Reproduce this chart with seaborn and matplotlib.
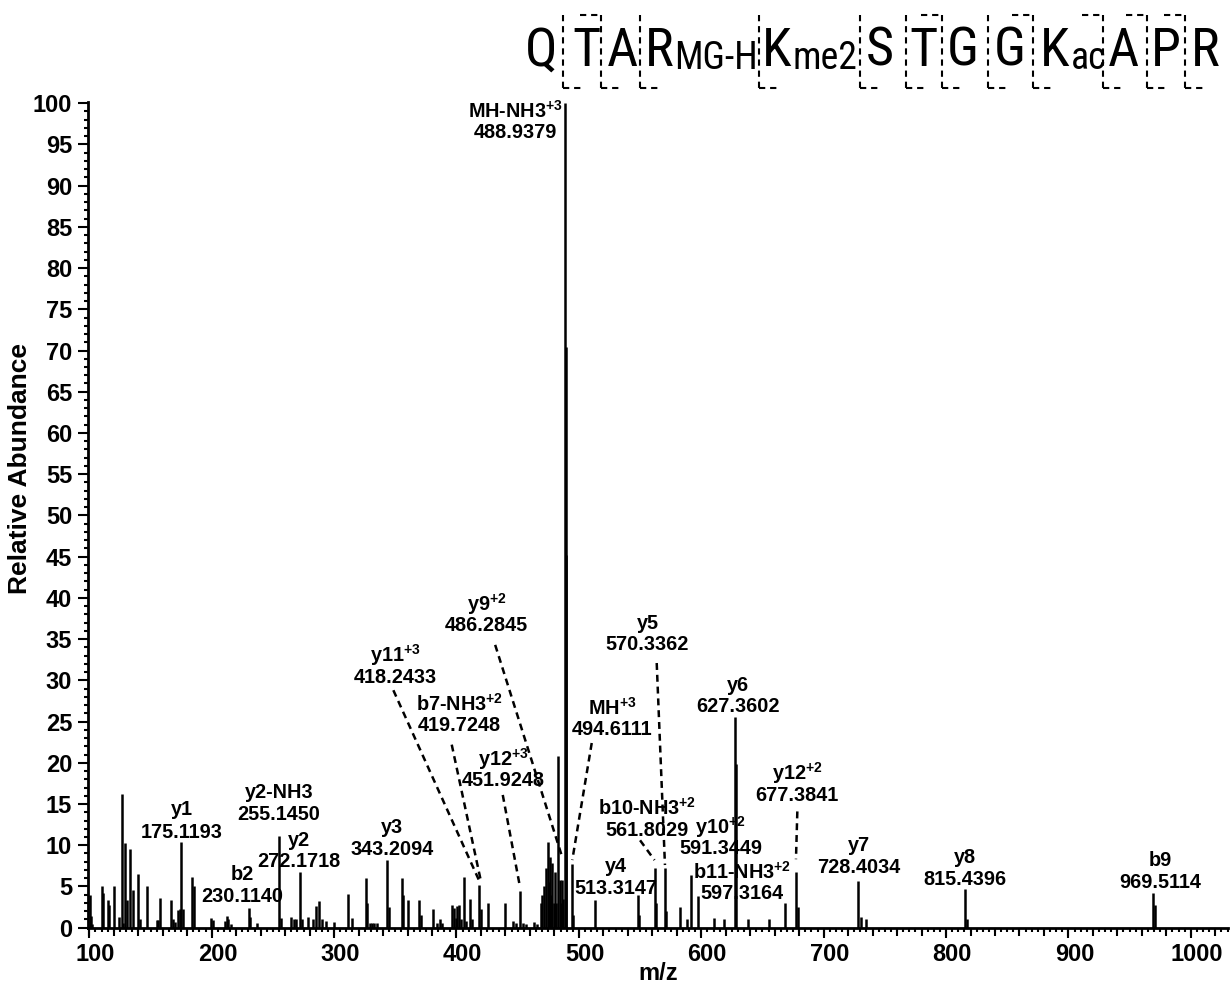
import os
import matplotlib
matplotlib.use("Agg")
import matplotlib.pyplot as plt
import seaborn as sns
from matplotlib import transforms, font_manager
from matplotlib.lines import Line2D
from matplotlib.ticker import MultipleLocator

# ---------------- spectrum data ----------------
mz = [100.4, 101.2, 102.5, 110.1, 111.5, 115.0, 116.1, 120.2, 124.5, 126.3,
      127.8, 129.2, 130.5, 133.2, 135.7, 140.0, 141.4, 147.4, 155.1, 156.0,
      158.0, 166.8, 168.6, 170.0, 172.7, 174.1, 175.1193, 176.6, 184.2, 185.3,
      199.4, 201.3, 210.9, 212.3, 213.6, 215.5, 230.1140, 231.2, 237.0, 255.1450,
      256.8, 264.8, 267.5, 269.2, 272.1718, 273.6, 278.9, 283.0, 285.2, 287.9,
      289.9, 293.2, 299.9, 311.6, 314.9, 325.8, 327.0, 329.0, 331.0, 333.0,
      335.0, 343.2094, 345.0, 355.5, 356.6, 360.7, 369.5, 370.8, 380.6, 384.4,
      386.6, 388.2, 396.6, 398.0, 399.6, 400.7, 402.3, 403.5, 405.9, 407.6,
      411.1, 412.5, 418.2433, 419.7248, 425.5, 439.7, 446.5, 448.9, 451.9248, 454.6,
      456.8, 463.6, 465.6, 468.9, 470.2, 471.6, 473.2, 474.6, 475.5, 476.5,
      477.6, 478.4, 479.4, 480.3, 481.5, 483.2, 484.6, 485.5, 486.2845, 487.4,
      488.9379, 489.27, 489.6, 494.6111, 495.6, 513.3147, 548.1, 549.2, 561.8029, 563.0,
      570.3362, 571.3, 582.7, 588.3, 591.3449, 597.3164, 610.2, 618.9, 627.3602, 628.36,
      638.5, 655.4, 668.8, 677.3841, 678.9, 728.4034, 730.6, 734.4, 815.4396, 817.0,
      969.5114, 971.0]
abundance = [4.0, 1.4, 0.5, 5.0, 4.2, 3.3, 2.7, 5.0, 1.3, 16.2,
             0.6, 10.3, 3.4, 9.6, 4.6, 6.5, 1.0, 5.1, 0.9, 0.9,
             3.6, 3.4, 1.0, 0.7, 2.1, 2.3, 10.35, 2.3, 6.1, 5.0,
             1.2, 0.9, 0.8, 1.4, 1.0, 0.5, 2.4, 1.3, 0.6, 11.1,
             1.2, 1.3, 1.1, 1.0, 6.75, 1.0, 1.3, 1.0, 2.6, 3.2,
             1.0, 0.8, 0.7, 4.1, 1.2, 6.0, 3.0, 0.6, 0.6, 0.6,
             0.6, 8.2, 2.5, 6.0, 4.0, 3.4, 3.4, 1.5, 2.3, 0.6,
             1.1, 0.6, 2.7, 2.4, 1.2, 2.6, 2.7, 1.0, 6.1, 0.8,
             3.5, 1.0, 5.2, 2.3, 3.0, 3.0, 0.8, 0.6, 4.5, 0.6,
             0.5, 0.7, 0.4, 3.0, 4.0, 5.0, 7.3, 10.4, 5.5, 8.6,
             4.0, 7.8, 3.0, 6.8, 3.0, 20.8, 5.8, 3.0, 5.8, 3.5,
             100.0, 70.4, 45.2, 7.7, 1.5, 3.4, 4.0, 1.5, 7.3, 3.0,
             7.2, 2.0, 2.5, 1.0, 6.4, 3.8, 1.2, 1.1, 25.6, 19.9,
             1.0, 1.0, 3.0, 6.7, 2.5, 5.7, 1.3, 1.0, 4.65, 1.0,
             4.2, 2.75]

# annotated fragment ions
ion_names = ["MH-NH3$^{+3}$", "y1", "b2", "y2-NH3", "y2", "y3", "y11$^{+3}$",
             "b7-NH3$^{+2}$", "y12$^{+3}$", "y9$^{+2}$", "MH$^{+3}$", "y4",
             "b10-NH3$^{+2}$", "y5", "y10$^{+2}$", "b11-NH3$^{+2}$", "y6",
             "y12$^{+2}$", "y7", "y8", "b9"]
ion_mz = [488.9379, 175.1193, 230.1140, 255.1450, 272.1718, 343.2094, 418.2433,
          419.7248, 451.9248, 486.2845, 494.6111, 513.3147, 561.8029, 570.3362,
          591.3449, 597.3164, 627.3602, 677.3841, 728.4034, 815.4396, 969.5114]

# peptide sequence with modifications and observed cleavages
residues = ["Q", "T", "A", "R", "K", "S", "T", "G", "G", "K", "A", "P", "R"]
modifications = ["", "", "", "MG-H", "me2", "", "", "", "", "ac", "", "", ""]
b_ions_seen = [2, 7, 9, 10, 11, 12]
y_ions_seen = [12, 11, 10, 9, 8, 7, 6, 5, 4, 3, 2, 1]

# ---------------- layout ----------------
# label placement (x, name line y, value line y) in data units
label_pos = {
    "MH-NH3$^{+3}$": (447.9, 99.1, 96.5),
    "y1": (175.7, 14.3, 11.6),
    "b2": (225.0, 6.5, 3.8),
    "y2-NH3": (255.0, 16.4, 13.75),
    "y2": (271.4, 10.6, 8.0),
    "y3": (347.6, 12.1, 9.5),
    "y11$^{+3}$": (349.8, 33.1, 30.4),
    "b7-NH3$^{+2}$": (402.1, 27.2, 24.5),
    "y12$^{+3}$": (438.0, 20.5, 17.9),
    "y9$^{+2}$": (424.7, 39.3, 36.7),
    "MH$^{+3}$": (527.1, 26.7, 24.0),
    "y4": (530.4, 7.4, 4.8),
    "b10-NH3$^{+2}$": (555.5, 14.5, 11.8),
    "y5": (556.0, 36.9, 34.3),
    "y10$^{+2}$": (615.9, 12.2, 9.6),
    "b11-NH3$^{+2}$": (633.3, 6.8, 4.2),
    "y6": (630.3, 29.4, 26.8),
    "y12$^{+2}$": (678.5, 18.7, 16.0),
    "y7": (728.9, 10.0, 7.3),
    "y8": (815.6, 8.5, 5.9),
    "b9": (974.9, 8.2, 5.5),
}
# dashed leader lines: label end (x, y) -> height above the ion peak
leaders = {
    "y11$^{+3}$": (348.4, 28.8, 5.8),
    "b7-NH3$^{+2}$": (396.1, 22.2, 5.8),
    "y9$^{+2}$": (431.6, 34.3, 8.6),
    "y12$^{+3}$": (437.8, 16.1, 4.9),
    "MH$^{+3}$": (510.5, 22.4, 8.2),
    "y5": (563.6, 32.1, 7.6),
    "b10-NH3$^{+2}$": (550.0, 10.6, 8.2),
    "y12$^{+2}$": (678.5, 14.1, 8.3),
}

# sequence header geometry in figure pixels
W, H = 1230, 986
residue_x = [541.6, 586.4, 622.0, 658.9, 776.6, 879.4, 923.8, 962.6,
             1009.3, 1054.7, 1123.8, 1165.9, 1205.6]
cleavage_x = [563.0, 600.5, 640.0, 759.0, 860.0, 905.6, 941.6, 988.3,
              1032.7, 1102.8, 1147.2, 1184.6]
seq_baseline, sub_baseline = 66, 69
bracket_top, bracket_bottom, hook_len = 15, 88, 21


def narrow_font():
    """Find an installed narrow/condensed sans face for the sequence."""
    entries = font_manager.fontManager.ttflist
    wanted = ["Liberation Sans Narrow", "Arial Narrow", "Roboto Condensed",
              "Open Sans Condensed", "Noto Sans Condensed"]
    for name in wanted:
        for f in entries:
            if f.name == name and f.style == "normal" and f.weight in (400, "normal", "regular"):
                return font_manager.FontProperties(fname=f.fname), 39
    skip = ("bold", "light", "semi", "extra", "thin", "medium", "black",
            "mono", "italic", "oblique", "serif", "display", "ui")
    for f in entries:
        base = os.path.basename(f.fname).lower()
        if ("condensed" in base or "narrow" in base) and not any(s in base.replace("sans", "") for s in skip):
            return font_manager.FontProperties(fname=f.fname), 39
    return font_manager.FontProperties(family="Liberation Sans"), 32


# ---------------- style ----------------
sns.set_theme(style="ticks")
plt.rcParams["font.family"] = ["Liberation Sans", "DejaVu Sans"]
plt.rcParams["font.weight"] = "bold"
plt.rcParams["axes.labelweight"] = "bold"
plt.rcParams["mathtext.fontset"] = "custom"
plt.rcParams["mathtext.default"] = "regular"
plt.rcParams["lines.scale_dashes"] = False

fig = plt.figure(figsize=(W / 100, H / 100), dpi=100)
ax = fig.add_axes([88 / W, 1 - 927.7 / H, 1140 / W, (927.7 - 101.5) / H])

# stick spectrum
ax.vlines(mz, 0, abundance, color="black", linewidth=1.8)

ax.set_xlim(98.9, 1030.4)
ax.set_ylim(0, 100.2)
sns.despine(ax=ax)
for side in ("left", "bottom"):
    ax.spines[side].set_linewidth(2.0)
    ax.spines[side].set_color("black")

ax.xaxis.set_major_locator(MultipleLocator(100))
ax.xaxis.set_minor_locator(MultipleLocator(5))
ax.yaxis.set_major_locator(MultipleLocator(5))
ax.yaxis.set_minor_locator(MultipleLocator(1))
ax.tick_params(which="both", direction="out", color="black", width=1.5,
               labelsize=17, labelcolor="black")
ax.tick_params(which="major", length=7.5)
ax.tick_params(which="minor", length=3.2)
ax.tick_params(axis="x", which="major", pad=3.5)
ax.tick_params(axis="y", which="major", pad=4)

# intermediate ticks every 20 on m/z
sec = ax.secondary_xaxis("bottom")
sec.xaxis.set_major_locator(MultipleLocator(20))
sec.tick_params(which="major", length=5.5, width=1.5, color="black",
                labelbottom=False)
sec.tick_params(which="minor", length=0)
sec.spines["bottom"].set_visible(False)

ax.set_xticks(list(range(100, 1001, 100)))
ax.set_xticklabels([str(v) for v in range(100, 1001, 100)])
shift = transforms.ScaledTranslation(6 / 100, 0, fig.dpi_scale_trans)
for lbl in ax.get_xticklabels():
    lbl.set_transform(lbl.get_transform() + shift)
    lbl.set_fontweight("bold")
for lbl in ax.get_yticklabels():
    lbl.set_fontweight("bold")

ax.set_xlabel("m/z", fontsize=17, fontweight="bold", color="black")
ax.xaxis.set_label_coords(0.5, -(974 - 927.7) / 826.2)
ax.xaxis.label.set_va("center")
ax.set_ylabel("Relative Abundance", fontsize=19, fontweight="bold", color="black")
ax.yaxis.set_label_coords((20 - 88) / 1140, (927.7 - 468) / 826.2)
ax.yaxis.label.set_va("center")

# ion annotations
for name, m in zip(ion_names, ion_mz):
    lx, ny, vy = label_pos[name]
    ax.text(lx, ny, name, ha="center", va="center", fontsize=14.3,
            fontweight="bold", color="black")
    ax.text(lx, vy, f"{m:.4f}", ha="center", va="center", fontsize=14.3,
            fontweight="bold", color="black")
    if name in leaders:
        sx, sy, ey = leaders[name]
        ax.plot([sx, m], [sy, ey], color="black", linewidth=1.8,
                linestyle=(0, (5, 3.5)), solid_capstyle="butt")


# peptide sequence header
def fx(px):
    return px / W


def fy(py):
    return 1 - py / H


seq_prop, seq_size = narrow_font()
renderer = fig.canvas.get_renderer()
for res, mod, x in zip(residues, modifications, residue_x):
    t = fig.text(fx(x), fy(seq_baseline), res, ha="center", va="baseline",
                 fontproperties=seq_prop, fontsize=seq_size, color="black")
    if mod:
        right = t.get_window_extent(renderer).x1
        fig.text(fx(right + 1), fy(sub_baseline), mod, ha="left", va="baseline",
                 fontproperties=seq_prop, fontsize=seq_size * 0.7, color="black")

dash = (0, (4.5, 3.5))
for k, x in enumerate(cleavage_x, start=1):
    fig.add_artist(Line2D([fx(x), fx(x)], [fy(bracket_top), fy(bracket_bottom)],
                          transform=fig.transFigure, color="black",
                          linewidth=1.5, linestyle=dash))
    if k in b_ions_seen:
        fig.add_artist(Line2D([fx(x - hook_len), fx(x)],
                              [fy(bracket_top), fy(bracket_top)],
                              transform=fig.transFigure, color="black",
                              linewidth=1.5, linestyle=dash))
    if (len(residues) - k) in y_ions_seen:
        fig.add_artist(Line2D([fx(x), fx(x + hook_len)],
                              [fy(bracket_bottom), fy(bracket_bottom)],
                              transform=fig.transFigure, color="black",
                              linewidth=1.5, linestyle=dash))

fig.savefig("out.png", dpi=100, facecolor="white")
